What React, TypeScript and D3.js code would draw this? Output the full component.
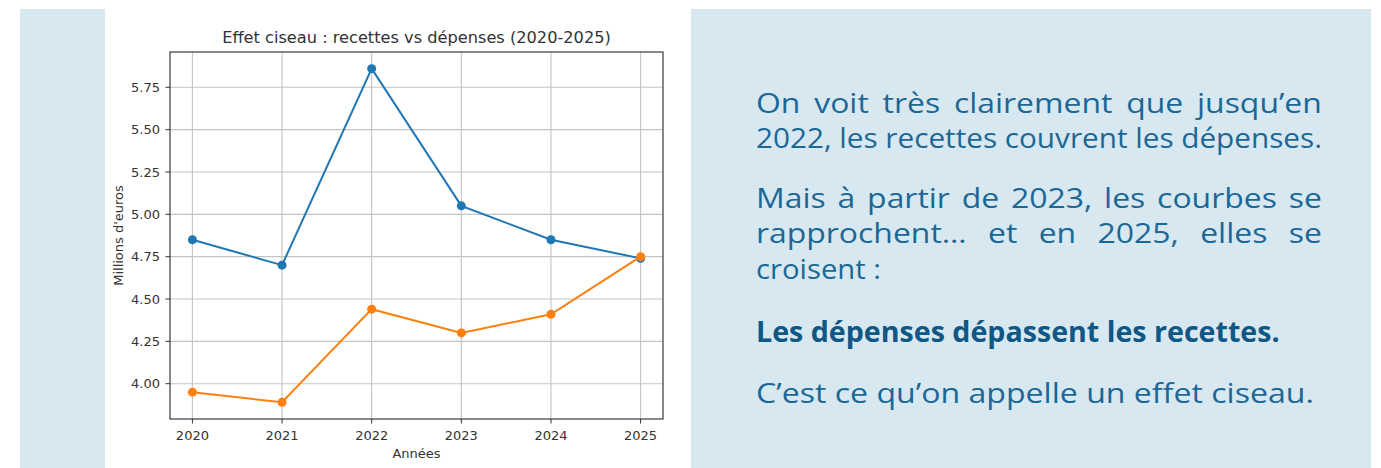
import React, { useRef, useEffect } from "react";
import * as d3 from "d3";

// chart data
const years = [2020, 2021, 2022, 2023, 2024, 2025];
const recettes = [4.85, 4.7, 5.86, 5.05, 4.85, 4.74];
const depenses = [3.95, 3.89, 4.44, 4.3, 4.41, 4.75];
const yTicks = [4.0, 4.25, 4.5, 4.75, 5.0, 5.25, 5.5, 5.75];
const seriesNames = ["Recettes", "Dépenses"];
const seriesColors = ["#1f77b4", "#ff7f0e"];

const title = "Effet ciseau : recettes vs dépenses (2020-2025)";
const xLabel = "Années";
const yLabel = "Millions d'euros";

// commentary text on the right
const textLines = [
  "On voit très clairement que jusqu’en",
  "2022, les recettes couvrent les dépenses.",
  "Mais à partir de 2023, les courbes se",
  "rapprochent… et en 2025, elles se",
  "croisent :",
  "Les dépenses dépassent les recettes.",
  "C’est ce qu’on appelle un effet ciseau.",
];
const justified = [true, true, true, true, false, false, false];
const boldLines = [false, false, false, false, false, true, false];

const W = 1381;
const H = 468;
const plot = { left: 170, right: 663, top: 52, bottom: 419 };
const textBox = { left: 756, right: 1322 };
const lineY = [113, 148, 208, 243, 279, 342, 403];
// widths of the lines that are not justified (the wide original face)
const lineWidths = [566, 566, 566, 566, 125, 524, 558];

// matplotlib style 5% margin
const pad = (ext: [number, number], f = 0.05): [number, number] => {
  const r = ext[1] - ext[0];
  return [ext[0] - r * f, ext[1] + r * f];
};

function App() {
  const svgRef = useRef<SVGSVGElement>(null);

  const x = d3
    .scaleLinear()
    .domain(pad(d3.extent(years) as [number, number]))
    .range([plot.left, plot.right]);

  const allVals = recettes.concat(depenses);
  const y = d3
    .scaleLinear()
    .domain(pad(d3.extent(allVals) as [number, number]))
    .range([plot.bottom, plot.top]);

  const line = d3
    .line<number>()
    .x((d, i) => x(years[i]))
    .y((d) => y(d));

  const series = [recettes, depenses];

  // widen the glyphs a bit (the original face is a wide one), then justify with word spacing
  useEffect(() => {
    const fit = () => {
      d3.select(svgRef.current)
        .selectAll<SVGTextElement, unknown>("text.body")
        .each(function (d, i) {
          const el = this;
          el.style.wordSpacing = "0px";
          el.setAttribute("transform", `translate(${textBox.left},${lineY[i]})`);
          const w = el.getComputedTextLength();
          const target = lineWidths[i];
          if (justified[i]) {
            const s = Math.min(1.14, target / w);
            const gaps = (el.textContent || "").split(" ").length - 1;
            el.setAttribute("transform", `translate(${textBox.left},${lineY[i]}) scale(${s},1)`);
            if (gaps > 0) el.style.wordSpacing = (target / s - w) / gaps + "px";
          } else {
            const s = target / w;
            el.setAttribute("transform", `translate(${textBox.left},${lineY[i]}) scale(${s},1)`);
          }
        });
    };
    fit();
    if ((document as any).fonts) (document as any).fonts.ready.then(fit);
  });

  const axisFont = "DejaVu Sans, sans-serif";

  return (
    <svg
      ref={svgRef}
      width={W}
      height={H}
      style={{ position: "absolute", left: 0, top: 0, background: "#fff" }}
    >
      {/* side panels */}
      <rect x={20} y={9} width={85} height={H - 9} fill="#d7e8f0" />
      <rect x={691} y={9} width={680} height={H - 9} fill="#d7e8f0" />

      {/* grid */}
      <g stroke="#c4c4c4" strokeWidth={1.1}>
        {years.map((yr) => (
          <line key={"gx" + yr} x1={x(yr)} x2={x(yr)} y1={plot.top} y2={plot.bottom} />
        ))}
        {yTicks.map((t) => (
          <line key={"gy" + t} x1={plot.left} x2={plot.right} y1={y(t)} y2={y(t)} />
        ))}
      </g>

      {/* series */}
      {series.map((vals, si) => (
        <g key={seriesNames[si]}>
          <path d={line(vals) || ""} fill="none" stroke={seriesColors[si]} strokeWidth={2} />
          {vals.map((v, i) => (
            <circle key={i} cx={x(years[i])} cy={y(v)} r={4.5} fill={seriesColors[si]} />
          ))}
        </g>
      ))}

      {/* frame */}
      <rect
        x={plot.left}
        y={plot.top}
        width={plot.right - plot.left}
        height={plot.bottom - plot.top}
        fill="none"
        stroke="#3a3a3a"
        strokeWidth={1.2}
      />

      {/* axes text */}
      <g fontFamily={axisFont} fontSize={13} fill="#333">
        {yTicks.map((t) => (
          <g key={"yt" + t}>
            <line x1={plot.left - 4.5} x2={plot.left} y1={y(t)} y2={y(t)} stroke="#333" strokeWidth={1} />
            <text x={plot.left - 10} y={y(t)} dy="0.36em" textAnchor="end">
              {d3.format(".2f")(t)}
            </text>
          </g>
        ))}
        {years.map((yr) => (
          <g key={"xt" + yr}>
            <line x1={x(yr)} x2={x(yr)} y1={plot.bottom} y2={plot.bottom + 4.5} stroke="#333" strokeWidth={1} />
            <text x={x(yr)} y={439.5} textAnchor="middle">
              {yr}
            </text>
          </g>
        ))}
        <text x={(plot.left + plot.right) / 2} y={457.5} textAnchor="middle">
          {xLabel}
        </text>
        <text
          transform={`translate(122.5, ${(plot.top + plot.bottom) / 2}) rotate(-90)`}
          textAnchor="middle"
        >
          {yLabel}
        </text>
        <text x={(plot.left + plot.right) / 2} y={43} textAnchor="middle" fontSize={16.2}>
          {title}
        </text>
      </g>

      {/* commentary */}
      <g fontFamily="Open Sans, sans-serif" fontSize={28}>
        {textLines.map((t, i) => (
          <text
            key={i}
            className="body"
            x={0}
            y={0}
            transform={`translate(${textBox.left},${lineY[i]})`}
            fill={boldLines[i] ? "#0f5784" : "#1b6796"}
            fontWeight={boldLines[i] ? 700 : 400}
          >
            {t}
          </text>
        ))}
      </g>
    </svg>
  );
}

export default App;
